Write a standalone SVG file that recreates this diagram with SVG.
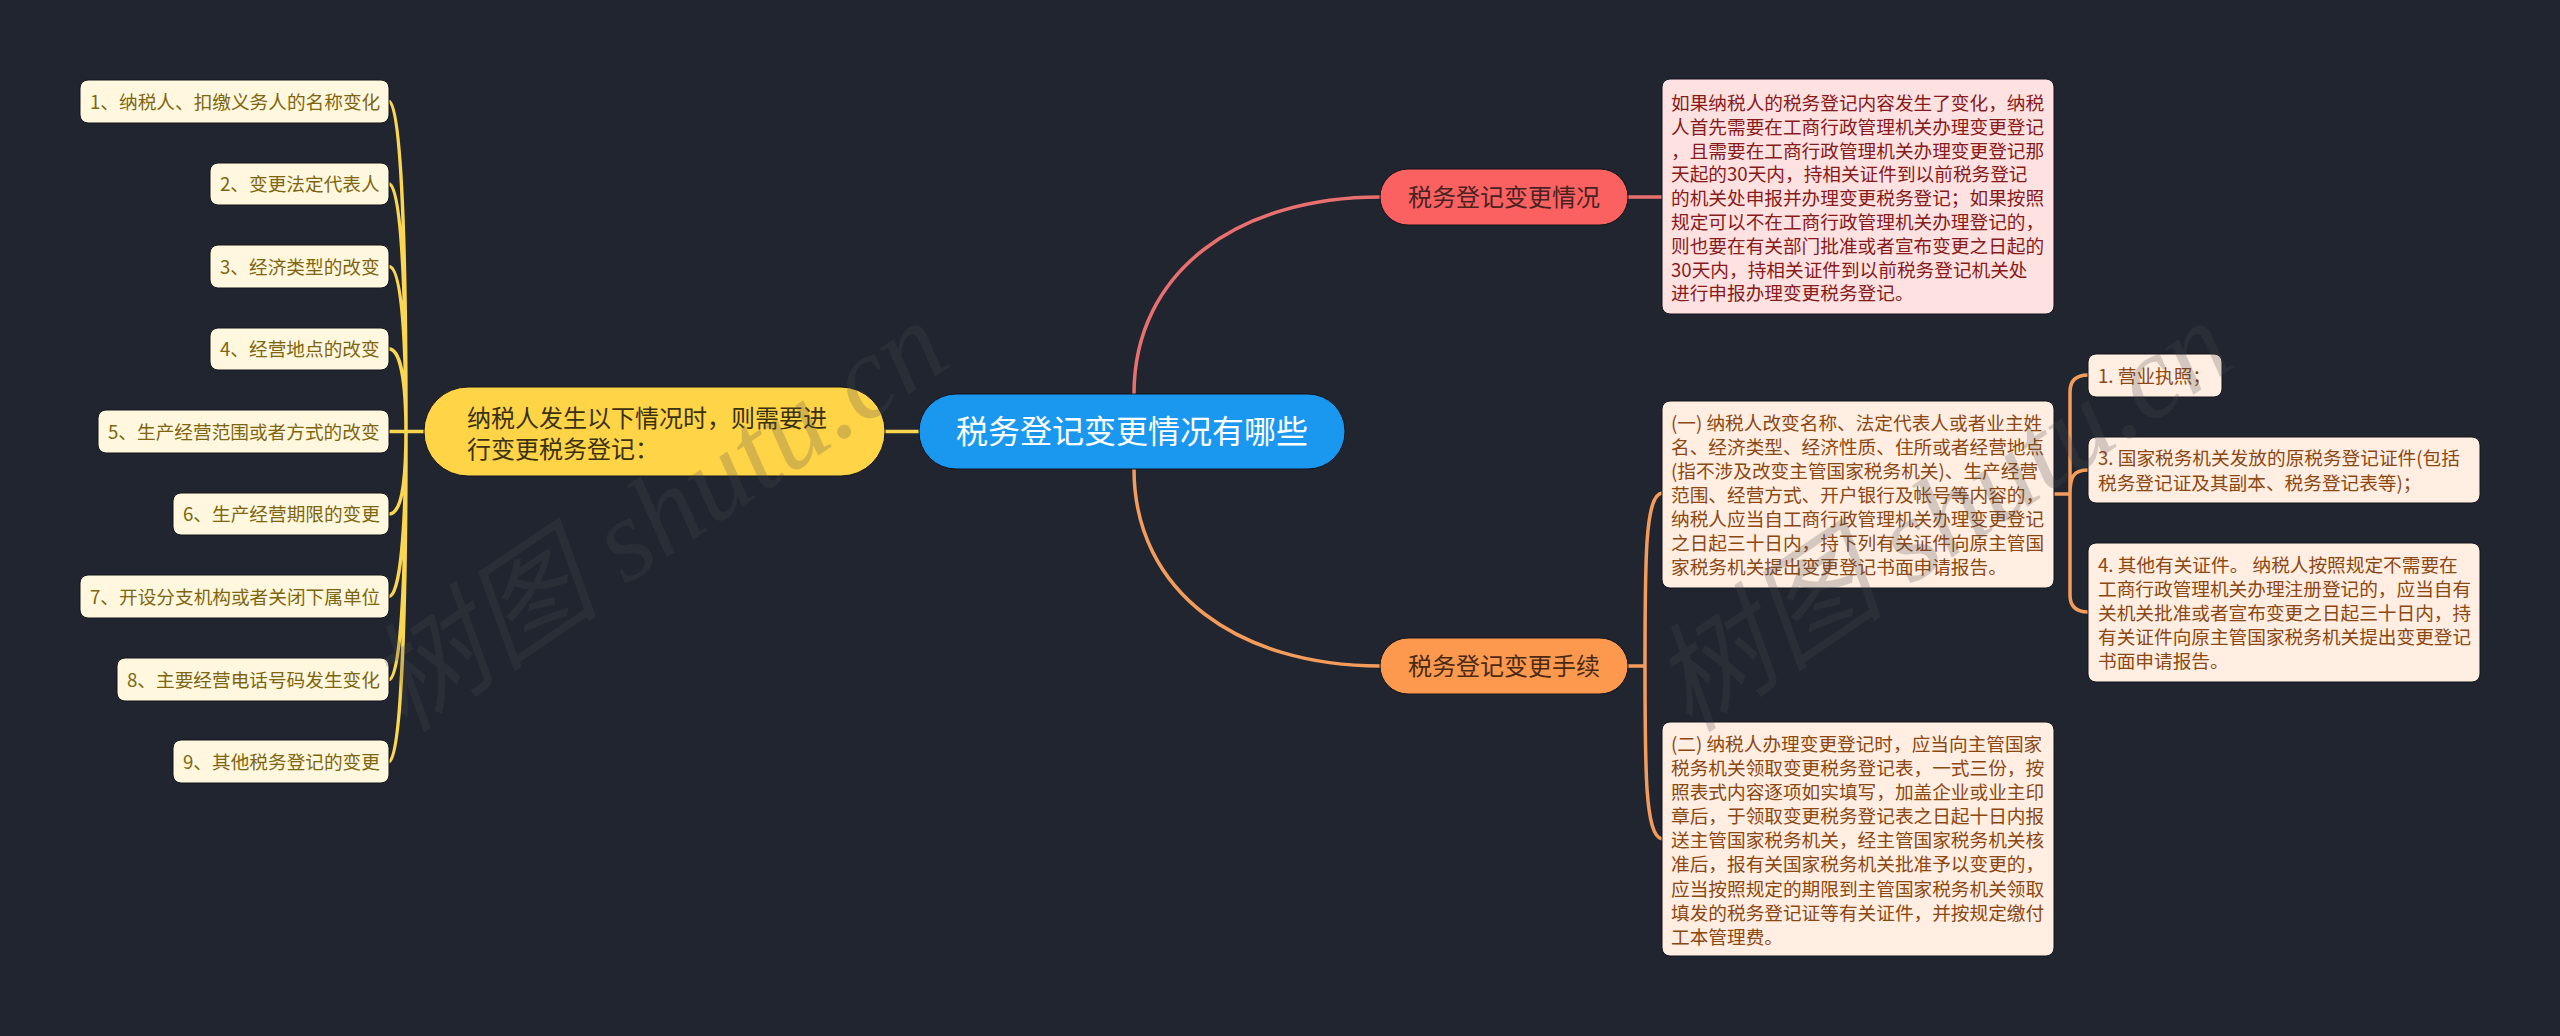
<svg xmlns="http://www.w3.org/2000/svg" width="2560" height="1036" viewBox="0 0 2560 1036">
<style>
text{font-family:"Noto Sans CJK SC","Noto Sans",sans-serif;font-size:18.67px}
.c{fill:none;stroke-width:3.5}
.y{stroke:#fbd650}.r{stroke:#e8706f}.o{stroke:#f39c5c}
rect{stroke:#13151c;stroke-width:1}
.ly rect{fill:#fff8de}.ly text{fill:#806510}
.lr rect{fill:#fee1e1}.lr text{fill:#871a1a}
.lo rect{fill:#ffeee1}.lo text{fill:#8c4712}
.wm{font-family:"Liberation Serif","Noto Sans CJK SC",serif;font-style:italic;font-size:118px;fill:#474a55;fill-opacity:.24}
</style>
<rect x="-1" y="-1" width="2562" height="1038" fill="#21252f" stroke="none"/>
<g id="connectors">
<path class="c y" d="M885,431.5H919M389,431.5H424"/>
<path class="c y" d="M389,101.5C400,101.5 406,220 406,431.5M389,184C400,184 406,270 406,431.5M389,266.5C400,266.5 406,320 406,431.5M389,349C400,349 406,380 406,431.5M389,514C400,514 406,490 406,431.5M389,596.5C400,596.5 406,530 406,431.5M389,679.5C400,679.5 406,590 406,431.5M389,761.5C400,761.5 406,640 406,431.5"/>
<path class="c r" d="M1134,394C1134,270 1240,197 1380,197M1628,197H1662"/>
<path class="c o" d="M1134,469C1134,593 1240,666 1380,666M1628,666H1645M1645,666C1645,560 1645,495 1662,493M1645,666C1645,770 1645,836 1662,839"/>
<path class="c o" d="M2054,494H2070M2070,494V392Q2070,375 2088,375M2070,494C2070,476 2074,470 2088,470M2070,494V595Q2070,612 2088,612"/>
</g>
<g id="root"><rect x="919" y="394" width="426" height="75" rx="37" fill="#1a98f0"/><text x="1132" y="443" text-anchor="middle" style="font-size:32px" fill="#fff">税务登记变更情况有哪些</text></g>
<g id="main-left"><rect x="424" y="387" width="461" height="89" rx="44" fill="#ffd447"/><text x="467" y="427" style="font-size:24px" fill="#3a3110">纳税人发生以下情况时，则需要进</text><text x="467" y="458" style="font-size:24px" fill="#3a3110">行变更税务登记：</text></g>
<g id="branch-red"><rect x="1380" y="169" width="248" height="56" rx="28" fill="#fb6161"/><text x="1504" y="206" text-anchor="middle" style="font-size:24px" fill="#4a2222">税务登记变更情况</text></g>
<g id="branch-orange"><rect x="1380" y="638" width="248" height="56" rx="28" fill="#fd994f"/><text x="1504" y="675" text-anchor="middle" style="font-size:24px" fill="#4a2a12">税务登记变更手续</text></g>
<g id="leaf-1" class="ly"><rect x="80" y="80" width="309" height="43" rx="8"/><text x="90" y="109">1、纳税人、扣缴义务人的名称变化</text></g>
<g id="leaf-2" class="ly"><rect x="210" y="163" width="179" height="42" rx="8"/><text x="220" y="191">2、变更法定代表人</text></g>
<g id="leaf-3" class="ly"><rect x="210" y="245" width="179" height="43" rx="8"/><text x="220" y="274">3、经济类型的改变</text></g>
<g id="leaf-4" class="ly"><rect x="210" y="328" width="179" height="42" rx="8"/><text x="220" y="356">4、经营地点的改变</text></g>
<g id="leaf-5" class="ly"><rect x="98" y="410" width="291" height="43" rx="8"/><text x="108" y="439">5、生产经营范围或者方式的改变</text></g>
<g id="leaf-6" class="ly"><rect x="173" y="493" width="216" height="42" rx="8"/><text x="183" y="521">6、生产经营期限的变更</text></g>
<g id="leaf-7" class="ly"><rect x="80" y="575" width="309" height="43" rx="8"/><text x="90" y="604">7、开设分支机构或者关闭下属单位</text></g>
<g id="leaf-8" class="ly"><rect x="117" y="658" width="272" height="43" rx="8"/><text x="127" y="687">8、主要经营电话号码发生变化</text></g>
<g id="leaf-9" class="ly"><rect x="173" y="740" width="216" height="43" rx="8"/><text x="183" y="769">9、其他税务登记的变更</text></g>
<g id="detail-red" class="lr"><rect x="1662" y="79" width="392" height="235" rx="8"/>
<text x="1671" y="110">如果纳税人的税务登记内容发生了变化，纳税</text>
<text x="1671" y="134">人首先需要在工商行政管理机关办理变更登记</text>
<text x="1671" y="158">，且需要在工商行政管理机关办理变更登记那</text>
<text x="1671" y="181">天起的30天内，持相关证件到以前税务登记</text>
<text x="1671" y="205">的机关处申报并办理变更税务登记；如果按照</text>
<text x="1671" y="229">规定可以不在工商行政管理机关办理登记的，</text>
<text x="1671" y="253">则也要在有关部门批准或者宣布变更之日起的</text>
<text x="1671" y="277">30天内，持相关证件到以前税务登记机关处</text>
<text x="1671" y="300">进行申报办理变更税务登记。</text></g>
<g id="detail-one" class="lo"><rect x="1662" y="401" width="392" height="187" rx="8"/>
<text x="1671" y="430">(一) 纳税人改变名称、法定代表人或者业主姓</text>
<text x="1671" y="454">名、经济类型、经济性质、住所或者经营地点</text>
<text x="1671" y="478">(指不涉及改变主管国家税务机关)、生产经营</text>
<text x="1671" y="502">范围、经营方式、开户银行及帐号等内容的，</text>
<text x="1671" y="526">纳税人应当自工商行政管理机关办理变更登记</text>
<text x="1671" y="550">之日起三十日内，持下列有关证件向原主管国</text>
<text x="1671" y="574">家税务机关提出变更登记书面申请报告。</text></g>
<g id="detail-two" class="lo"><rect x="1662" y="722" width="392" height="234" rx="8"/>
<text x="1671" y="751">(二) 纳税人办理变更登记时，应当向主管国家</text>
<text x="1671" y="775">税务机关领取变更税务登记表，一式三份，按</text>
<text x="1671" y="799">照表式内容逐项如实填写，加盖企业或业主印</text>
<text x="1671" y="823">章后，于领取变更税务登记表之日起十日内报</text>
<text x="1671" y="847">送主管国家税务机关，经主管国家税务机关核</text>
<text x="1671" y="871">准后，报有关国家税务机关批准予以变更的，</text>
<text x="1671" y="896">应当按照规定的期限到主管国家税务机关领取</text>
<text x="1671" y="920">填发的税务登记证等有关证件，并按规定缴付</text>
<text x="1671" y="944">工本管理费。</text></g>
<g id="sub-1" class="lo"><rect x="2088" y="354" width="134" height="43" rx="8"/><text x="2098" y="383">1. 营业执照；</text></g>
<g id="sub-3" class="lo"><rect x="2088" y="437" width="392" height="66" rx="8"/>
<text x="2098" y="465">3. 国家税务机关发放的原税务登记证件(包括</text>
<text x="2098" y="490">税务登记证及其副本、税务登记表等)；</text></g>
<g id="sub-4" class="lo"><rect x="2088" y="543" width="392" height="139" rx="8"/>
<text x="2098" y="572">4. 其他有关证件。 纳税人按照规定不需要在</text>
<text x="2098" y="596">工商行政管理机关办理注册登记的，应当自有</text>
<text x="2098" y="620">关机关批准或者宣布变更之日起三十日内，持</text>
<text x="2098" y="644">有关证件向原主管国家税务机关提出变更登记</text>
<text x="2098" y="668">书面申请报告。</text></g>
<text class="wm" x="660" y="555" text-anchor="middle" transform="rotate(-34 660 520)">树图 shutu.cn</text>
<text class="wm" x="1945" y="555" text-anchor="middle" transform="rotate(-34 1945 520)">树图 shutu.cn</text>
</svg>
